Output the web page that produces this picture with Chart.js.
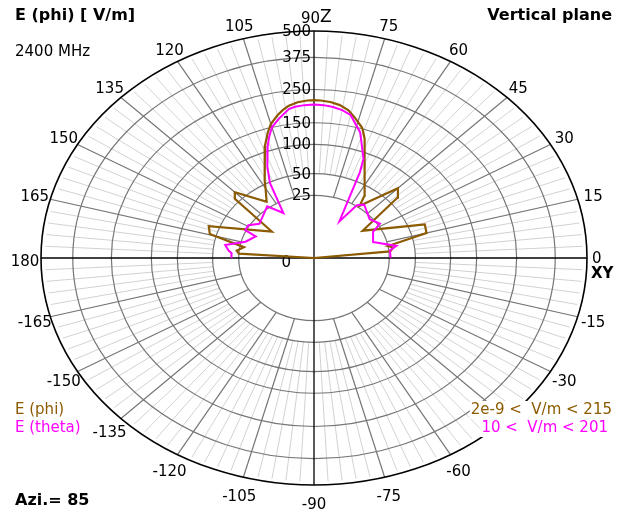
<!DOCTYPE html>
<html>
<head>
<meta charset="utf-8">
<script src="https://cdn.jsdelivr.net/npm/chart.js@4.4.1/dist/chart.umd.min.js"></script>
<style>
  html, body { margin: 0; padding: 0; background: #fff; }
  #wrap { width: 629px; height: 516px; }
</style>
</head>
<body>
<div id="wrap"><canvas id="chart" width="629" height="516"></canvas></div>
<script>
// radial ticks in V/m, angle ticks in degrees
const radialTicks = [0, 25, 50, 100, 150, 250, 375, 500];
const angleTicks = [0, 15, 30, 45, 60, 75, 90, 105, 120, 135, 150, 165, 180,
  -165, -150, -135, -120, -105, -90, -75, -60, -45, -30, -15];
const radialMax = 500;
const radialPower = 0.43; // ring spacing of the original plot (r ~ v^0.43)

// E(phi), vertical plane
const phiAngles = [0, 6, 9, 11, 15, 20, 34, 41, 45, 54, 56, 59, 63, 67, 69, 70.5, 72, 73, 76.5, 79, 82, 85, 88,
  90, 92, 95, 98, 100, 102, 105, 107, 110, 114, 118, 120, 125, 135, 138, 143, 160, 164.5, 169.5, 173.5, 176, 180];
const phiValues = [0, 26, 29, 25, 69, 71, 14, 61, 72, 27, 38, 47, 62, 88, 107, 128, 143, 153, 175, 192, 204, 211, 214,
  215, 214, 210, 201, 191, 179, 159, 140, 112, 76, 54, 45, 31, 63, 56, 11, 63, 58, 22, 27, 25, 0];

// E(theta), vertical plane
const thetaAngles = [0, 7, 10, 18, 28, 32, 40, 52, 56, 60, 66, 67.5, 73, 78, 81, 84, 87, 90, 93, 96, 98, 102, 105,
  107, 109, 113, 116, 119.5, 127, 134, 143, 149, 154, 156, 164, 170, 174, 176, 180];
const thetaValues = [26, 26, 32, 16, 19, 27, 23, 30, 26, 10, 64, 88, 140, 180, 190, 196, 200, 201, 200, 197, 192, 168, 150,
  130, 110, 73, 49, 16, 27, 23, 20, 26, 26, 17, 22, 38, 34, 31, 31];

const phiColor = '#8c5a00';
const thetaColor = '#ff00ff';

const rad = d => d * Math.PI / 180;
const radius = v => Math.pow(Math.max(v, 0) / radialMax, radialPower);
const toPoints = (angles, values) => angles.map((a, i) => {
  const r = radius(values[i]);
  return { x: r * Math.cos(rad(a)), y: r * Math.sin(rad(a)) };
});

function drawText(ctx, text, x, y, font, color, align, bg) {
  ctx.font = font;
  ctx.textAlign = align || 'left';
  ctx.textBaseline = 'middle';
  if (bg) {
    const w = ctx.measureText(text).width;
    const left = align === 'right' ? x - w : (align === 'center' ? x - w / 2 : x);
    ctx.fillStyle = bg;
    ctx.fillRect(left - 1, y - 9, w + 2, 18);
  }
  ctx.fillStyle = color;
  ctx.fillText(text, x, y);
}

const polarGrid = {
  id: 'polarGrid',
  beforeDatasetsDraw(chart) {
    const { ctx, scales: { x, y } } = chart;
    const cx = x.getPixelForValue(0), cy = y.getPixelForValue(0);
    const rx = x.getPixelForValue(1) - cx, ry = cy - y.getPixelForValue(1);
    const pt = (r, d) => [x.getPixelForValue(r * Math.cos(rad(d))), y.getPixelForValue(r * Math.sin(rad(d)))];
    const spoke = (r0, r1, d) => {
      const a = pt(r0, d), b = pt(r1, d);
      ctx.beginPath(); ctx.moveTo(a[0], a[1]); ctx.lineTo(b[0], b[1]); ctx.stroke();
    };
    ctx.save();
    // fine spokes every 3 deg
    ctx.strokeStyle = '#d2d2d2';
    ctx.lineWidth = 1;
    for (let d = 0; d < 360; d += 3) {
      if (d % 15 !== 0) spoke(radius(50), 0.985, d);
    }
    // rings
    ctx.strokeStyle = '#767676';
    ctx.lineWidth = 1.2;
    radialTicks.slice(1, -1).forEach(t => {
      const f = radius(t);
      ctx.beginPath(); ctx.ellipse(cx, cy, rx * f, ry * f, 0, 0, 2 * Math.PI); ctx.stroke();
    });
    // main spokes every 15 deg
    for (let d = 0; d < 360; d += 15) {
      if (d % 90 !== 0) spoke(radius(25), 1, d);
    }
    // axes
    ctx.strokeStyle = '#000';
    ctx.lineWidth = 1.3;
    ctx.beginPath(); ctx.moveTo(cx - rx, cy); ctx.lineTo(cx + rx, cy); ctx.stroke();
    ctx.beginPath(); ctx.moveTo(cx, cy - ry); ctx.lineTo(cx, cy + ry); ctx.stroke();
    // outer ring
    ctx.lineWidth = 1.6;
    ctx.beginPath(); ctx.ellipse(cx, cy, rx, ry, 0, 0, 2 * Math.PI); ctx.stroke();

    // angle labels
    const font = '15px "DejaVu Sans"';
    angleTicks.forEach(a => {
      const c = Math.cos(rad(a)), s = Math.sin(rad(a));
      const ex = cx + rx * c, ey = cy - ry * s;
      const lx = ex + 16 * c;
      const ly = ey - 13 * s + 1 + (s < 0 ? -6 * s : 0);
      if (a === 90) {
        drawText(ctx, '90', cx + 6, ly, font, '#000', 'right');
        drawText(ctx, 'Z', cx + 6, ly - 1, '17px "DejaVu Sans"', '#000', 'left');
      } else if (a === 0) {
        drawText(ctx, '0', ex + 5, cy + 1, font, '#000', 'left');
        drawText(ctx, 'XY', ex + 4, cy + 16, 'bold 15px "DejaVu Sans"', '#000', 'left');
      } else {
        drawText(ctx, String(a), lx, a === 180 ? ly + 3 : ly, font, '#000', 'center');
      }
    });
    // radial labels
    radialTicks.forEach(t => {
      if (t === 0) {
        drawText(ctx, '0', cx - 23, cy + 5, font, '#000', 'right');
      } else {
        drawText(ctx, String(t), cx - 3, cy - ry * radius(t) + 1, font, '#000', 'right');
      }
    });
    ctx.restore();
  },
  afterDraw(chart) {
    const { ctx } = chart;
    ctx.save();
    const bold = 'bold 16px "DejaVu Sans"';
    const norm = '15px "DejaVu Sans"';
    drawText(ctx, 'E (phi) [ V/m]', 15, 16, bold, '#000', 'left');
    drawText(ctx, 'Vertical plane', 612, 16, bold, '#000', 'right');
    drawText(ctx, '2400 MHz', 15, 52, norm, '#000', 'left');
    drawText(ctx, 'Azi.= 85', 15, 501, bold, '#000', 'left');
    drawText(ctx, 'E (phi)', 15, 410, norm, phiColor, 'left', '#fff');
    drawText(ctx, 'E (theta)', 15, 428, norm, thetaColor, 'left', '#fff');
    drawText(ctx, '2e-9 <  V/m < ' + Math.max(...phiValues), 612, 410, norm, phiColor, 'right', '#fff');
    drawText(ctx, Math.min(...thetaValues) + ' <  V/m < ' + Math.max(...thetaValues), 608, 428, norm, thetaColor, 'right', '#fff');
    ctx.restore();
  }
};

new Chart(document.getElementById('chart'), {
  type: 'scatter',
  data: {
    datasets: [
      {
        label: 'E (theta)',
        data: toPoints(thetaAngles, thetaValues),
        showLine: true,
        borderColor: thetaColor,
        borderWidth: 2,
        pointRadius: 0,
        tension: 0
      },
      {
        label: 'E (phi)',
        data: toPoints(phiAngles, phiValues),
        showLine: true,
        borderColor: phiColor,
        borderWidth: 2.2,
        pointRadius: 0,
        tension: 0
      }
    ]
  },
  options: {
    responsive: false,
    animation: false,
    devicePixelRatio: 1,
    layout: { padding: { left: 41, right: 42, top: 31, bottom: 31 } },
    plugins: { legend: { display: false }, tooltip: { enabled: false } },
    scales: {
      x: { type: 'linear', min: -1, max: 1, display: false },
      y: { type: 'linear', min: -1, max: 1, display: false }
    }
  },
  plugins: [polarGrid]
});
</script>
</body>
</html>
